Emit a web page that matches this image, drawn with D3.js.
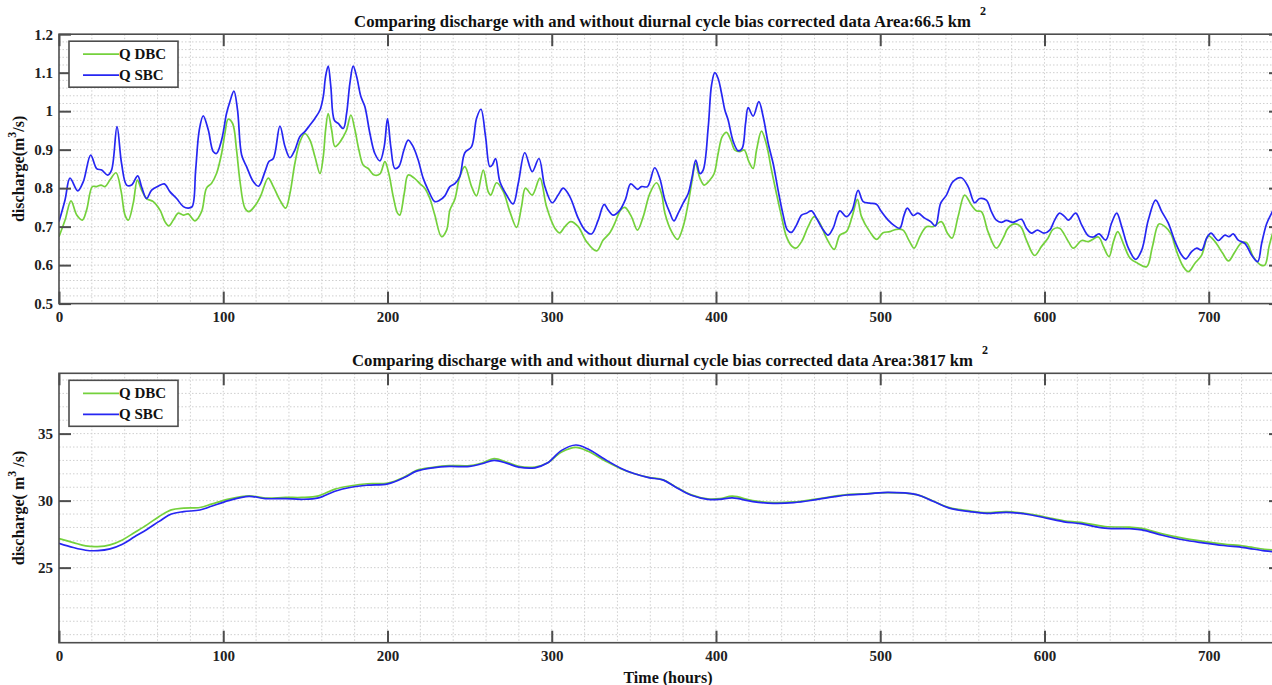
<!DOCTYPE html>
<html><head><meta charset="utf-8">
<script src="https://cdn.jsdelivr.net/npm/d3@7"></script>
<style>body{margin:0;background:#fff}svg{display:block}</style>
</head><body><svg id="c" width="1272" height="685"></svg>
<script>
// ---------- data ----------
const hourTicks = [0, 100, 200, 300, 400, 500, 600, 700];
const topTicks = [0.5, 0.6, 0.7, 0.8, 0.9, 1.0, 1.1, 1.2];
const bottomTicks = [25, 30, 35];
const seriesNames = ["Q DBC", "Q SBC"];
const titleTop = "Comparing discharge with and without diurnal cycle bias corrected data Area:66.5 km";
const titleBottom = "Comparing discharge with and without diurnal cycle bias corrected data Area:3817 km";

// [hour, discharge]
const topDBC = [[0,0.674],[3.7,0.717],[7.3,0.767],[10.8,0.73],[14.2,0.717],[16.8,0.743],[20.3,0.804],[22.9,0.804],[25.6,0.808],[28,0.804],[31,0.821],[34.7,0.84],[37.7,0.795],[40.2,0.73],[42.2,0.717],[45.2,0.761],[47.7,0.821],[50.3,0.795],[53.3,0.773],[57.4,0.765],[61.5,0.743],[64.5,0.713],[66.9,0.702],[69.6,0.717],[72.6,0.735],[75.7,0.73],[78.7,0.733],[82.8,0.715],[86.8,0.739],[89.8,0.8],[92.9,0.813],[95.9,0.838],[99,0.89],[101,0.942],[103,0.979],[105.7,0.968],[108.1,0.899],[110.1,0.821],[113.2,0.748],[115.6,0.739],[119.3,0.754],[122.8,0.78],[127.4,0.826],[130.5,0.804],[134.5,0.769],[138,0.748],[140.6,0.786],[143.6,0.864],[146.7,0.921],[149.7,0.942],[152.8,0.925],[155.8,0.882],[158.9,0.838],[160.9,0.882],[162.3,0.951],[163.9,0.994],[166,0.951],[168,0.908],[170.4,0.916],[173.1,0.934],[175.1,0.951],[177.7,0.99],[180.2,0.951],[182.6,0.899],[185.2,0.86],[188.3,0.851],[191.9,0.834],[195.4,0.837],[198.4,0.869],[200.8,0.838],[203.5,0.778],[206.1,0.735],[207.5,0.73],[210.2,0.786],[212.6,0.834],[216.3,0.826],[219.7,0.812],[222.7,0.8],[225.8,0.773],[228.8,0.73],[232.9,0.674],[236,0.691],[238,0.743],[241,0.771],[244,0.83],[247.1,0.856],[251.2,0.804],[254.2,0.78],[258.3,0.847],[261.3,0.791],[262.9,0.782],[266.4,0.814],[270.5,0.791],[274.5,0.739],[278.6,0.698],[281.6,0.752],[284,0.8],[288.1,0.782],[292.8,0.826],[296.8,0.752],[301.9,0.696],[304.9,0.684],[308,0.7],[311.6,0.713],[316.1,0.7],[321.2,0.661],[327.3,0.637],[331.3,0.665],[335.4,0.684],[338.4,0.709],[341.9,0.743],[344.5,0.75],[348.5,0.726],[352.2,0.691],[355.7,0.726],[359.7,0.786],[363.8,0.814],[366.8,0.786],[368.9,0.735],[373,0.687],[376.6,0.667],[380,0.7],[383.1,0.761],[385.5,0.821],[387.5,0.864],[390.2,0.826],[392.8,0.808],[396.3,0.821],[398.9,0.838],[401.3,0.89],[403.8,0.934],[406.4,0.945],[409,0.925],[411.5,0.899],[414.5,0.895],[417.2,0.899],[420,0.869],[422.6,0.851],[424.7,0.899],[427.7,0.948],[430.8,0.912],[433.8,0.847],[436.8,0.786],[439.9,0.726],[442.9,0.674],[446,0.65],[448.6,0.644],[452.1,0.661],[456.1,0.7],[459.8,0.726],[463.2,0.709],[467.3,0.67],[472,0.641],[475.4,0.678],[479.4,0.687],[482.9,0.726],[486.1,0.771],[488.6,0.726],[493.6,0.687],[497.7,0.667],[501.7,0.684],[505.8,0.687],[509.9,0.693],[513.9,0.691],[517.4,0.665],[520.6,0.644],[524.1,0.674],[528.1,0.7],[532.2,0.7],[537.2,0.713],[540.9,0.683],[543.7,0.67],[547.4,0.726],[551.4,0.782],[555.5,0.756],[558.5,0.741],[561.6,0.739],[565.6,0.687],[570.7,0.644],[574.8,0.67],[577.8,0.696],[581.9,0.707],[585.5,0.7],[589,0.665],[594,0.625],[598.1,0.648],[602.1,0.67],[605.2,0.693],[609.2,0.696],[612.3,0.678],[614.6,0.661],[617.6,0.644],[622.7,0.664],[626.7,0.661],[632.8,0.673],[635.9,0.648],[639.3,0.622],[642,0.661],[644.6,0.687],[648,0.656],[652.1,0.618],[656.7,0.605],[662.2,0.596],[665.7,0.648],[669.7,0.707],[673.4,0.7],[677,0.681],[680.5,0.635],[684.5,0.596],[687.6,0.583],[691.6,0.605],[695.7,0.626],[699.8,0.676],[703.8,0.661],[708.3,0.632],[712,0.611],[716,0.635],[720,0.658],[723.1,0.658],[727.1,0.622],[731.8,0.6],[734.2,0.6],[736.7,0.648],[738.3,0.674],[741,0.71]];

const topSBC = [[0,0.713],[3.7,0.77],[6.7,0.826],[11.4,0.793],[14.8,0.817],[19.3,0.886],[22.9,0.851],[26,0.847],[29.6,0.834],[32,0.847],[35.3,0.96],[38.1,0.864],[41.2,0.808],[44.2,0.808],[47.9,0.832],[50.3,0.803],[53.3,0.773],[56.4,0.795],[60.4,0.805],[64.1,0.811],[67.5,0.791],[71.6,0.773],[75.7,0.752],[78.7,0.748],[81.1,0.752],[83.2,0.847],[85.4,0.951],[87.8,0.988],[90.9,0.951],[93.9,0.895],[95.9,0.89],[99,0.925],[102,0.994],[104,1.024],[106.5,1.052],[108.7,1.003],[111.2,0.886],[114.2,0.856],[118.3,0.817],[121.5,0.805],[125.4,0.843],[127.8,0.869],[130.5,0.877],[134.5,0.961],[137.6,0.908],[140.6,0.879],[143.6,0.899],[146.7,0.934],[149.7,0.947],[152.8,0.964],[155.8,0.981],[158.9,1.003],[160.9,1.038],[162.3,1.09],[163.9,1.117],[165.5,1.064],[167.6,0.977],[170,0.968],[173.1,0.955],[175.1,0.994],[177.1,1.072],[179.1,1.117],[181.2,1.09],[183.8,1.038],[186.2,1.012],[189.3,0.942],[192.3,0.89],[195.4,0.871],[198,0.908],[200,0.981],[202,0.908],[204.5,0.851],[206.9,0.856],[210,0.899],[212.6,0.925],[215.6,0.908],[218.7,0.873],[221.7,0.826],[224.8,0.795],[228.8,0.765],[231.9,0.769],[234.9,0.78],[238,0.804],[241,0.812],[244,0.83],[247.1,0.892],[251.2,0.908],[254.2,0.981],[256.9,1.005],[259.7,0.934],[262.3,0.856],[263.8,0.86],[265.8,0.877],[268.4,0.817],[272.5,0.782],[276.5,0.759],[279.6,0.812],[283.6,0.892],[288.1,0.843],[292.2,0.877],[295.8,0.804],[300.3,0.762],[303.9,0.782],[307,0.8],[311,0.778],[316.1,0.722],[320.2,0.691],[324.2,0.681],[328.3,0.717],[331.9,0.758],[334.4,0.743],[337.4,0.73],[341.5,0.743],[344.9,0.771],[348.1,0.811],[352.2,0.797],[354.6,0.804],[358.3,0.804],[362.7,0.853],[365.8,0.825],[368.9,0.769],[372,0.735],[374.4,0.715],[377,0.735],[380,0.761],[383.1,0.786],[385.5,0.83],[387.7,0.873],[390.2,0.838],[392.2,0.847],[395.3,0.96],[397.3,1.068],[399.3,1.1],[401.3,1.085],[403.4,1.046],[405.4,1.003],[407.4,0.977],[410.5,0.921],[413.5,0.897],[415.9,0.903],[418,0.968],[419.6,1.009],[422.6,0.987],[426.1,1.025],[428.7,0.986],[431.8,0.916],[434.8,0.864],[437.8,0.795],[440.9,0.73],[443.5,0.691],[446,0.685],[449,0.704],[452.1,0.73],[455.1,0.735],[458.1,0.741],[461.2,0.722],[464.6,0.696],[468.3,0.678],[471.3,0.696],[475.4,0.741],[479.4,0.726],[482.9,0.743],[486.5,0.794],[489.6,0.765],[493.6,0.761],[497.7,0.758],[500.7,0.739],[504.8,0.717],[508.8,0.702],[511.9,0.696],[514.5,0.73],[516.5,0.748],[520,0.729],[523,0.735],[527.1,0.722],[530.7,0.713],[533.6,0.702],[536.8,0.761],[540.3,0.782],[544.3,0.817],[549.4,0.827],[553.5,0.804],[557.5,0.762],[560.6,0.773],[564.6,0.769],[567.7,0.739],[570.7,0.717],[573.7,0.711],[576.8,0.716],[580.9,0.711],[585.9,0.719],[589,0.696],[592,0.683],[595.7,0.691],[599.7,0.683],[603.2,0.691],[606.2,0.717],[609.2,0.735],[612.3,0.726],[614.6,0.717],[619,0.735],[622.7,0.704],[626.7,0.676],[629.8,0.673],[633.2,0.681],[637.3,0.665],[640.9,0.71],[644,0.735],[647,0.7],[651.1,0.644],[655.5,0.615],[659.2,0.639],[663.2,0.717],[667.7,0.769],[671.4,0.739],[675.4,0.709],[679.5,0.661],[683.5,0.626],[686,0.616],[689.6,0.635],[692.7,0.644],[695.7,0.639],[698.7,0.67],[701.4,0.683],[705.8,0.664],[709.9,0.678],[712.3,0.674],[714.9,0.681],[718,0.665],[722.1,0.656],[726.1,0.626],[729.8,0.609],[732.2,0.656],[735.2,0.707],[738.3,0.735],[741,0.76]];

const bottomDBC = [[0,27.17],[8.7,26.87],[16.2,26.62],[23.6,26.57],[31.1,26.7],[38.6,27.07],[46,27.62],[53.5,28.19],[61,28.82],[68.4,29.31],[75.9,29.44],[85.8,29.49],[93.3,29.76],[103.2,30.11],[115.7,30.36],[125.6,30.19],[138,30.24],[148,30.24],[158,30.36],[168,30.86],[177.9,31.11],[187.8,31.26],[200.2,31.31],[210.2,31.76],[217.7,32.26],[227.6,32.48],[237.6,32.61],[250,32.61],[257.5,32.81],[264.9,33.13],[272.4,32.88],[279.9,32.56],[289.8,32.51],[297.3,32.81],[306,33.63],[314.7,33.98],[322.1,33.68],[332.1,33.0],[342,32.38],[350,32.02],[359,31.74],[368,31.55],[375,31.06],[385,30.43],[395,30.13],[402.4,30.15],[410,30.33],[422.4,30.0],[434.9,29.85],[447.4,29.9],[459.8,30.1],[472.3,30.33],[479.8,30.45],[492.3,30.52],[504.7,30.6],[522.2,30.45],[532.2,29.97],[542.1,29.48],[554.6,29.23],[564.6,29.1],[577,29.18],[592,28.98],[601.9,28.74],[611.9,28.5],[621.9,28.38],[636.8,28.07],[651.8,28.02],[659.3,27.93],[671.7,27.52],[684.2,27.2],[696.6,26.96],[709.1,26.76],[721.5,26.61],[734,26.37],[741,26.3]];

const bottomSBC = [[0,26.82],[8.7,26.5],[16.2,26.3],[23.6,26.27],[31.1,26.4],[38.6,26.75],[46,27.3],[53.5,27.85],[61,28.45],[68.4,29.0],[75.9,29.18],[85.8,29.3],[93.3,29.6],[103.2,30.0],[115.7,30.32],[125.6,30.15],[138,30.15],[148,30.1],[158,30.2],[168,30.7],[177.9,31.0],[187.8,31.15],[200.2,31.25],[210.2,31.72],[217.7,32.2],[227.6,32.45],[237.6,32.55],[250,32.55],[257.5,32.75],[264.9,33.0],[272.4,32.8],[279.9,32.5],[289.8,32.45],[297.3,32.8],[306,33.75],[314.7,34.15],[322.1,33.85],[332.1,33.1],[342,32.42],[350,32.02],[359,31.72],[368,31.53],[375,31.04],[385,30.4],[395,30.1],[402.4,30.1],[410,30.2],[422.4,29.93],[434.9,29.8],[447.4,29.85],[459.8,30.05],[472.3,30.3],[479.8,30.42],[492.3,30.5],[504.7,30.62],[522.2,30.45],[532.2,29.95],[542.1,29.44],[554.6,29.18],[564.6,29.05],[577,29.13],[592,28.93],[601.9,28.68],[611.9,28.42],[621.9,28.28],[636.8,27.95],[651.8,27.9],[659.3,27.82],[671.7,27.42],[684.2,27.08],[696.6,26.85],[709.1,26.65],[721.5,26.5],[734,26.25],[741,26.18]];

// ---------- drawing ----------
const FONT = '"Liberation Serif","Times New Roman",serif';
const GREEN = "#74d13c", BLUE = "#2626f2", AX = "#4d4d4d";
const svg = d3.select("#c");
const x = d3.scaleLinear().domain([0, 744]).range([59, 1281]);

function panel(o) {
  const y = d3.scaleLinear().domain(o.domain).range([o.bottom, o.top]);
  const g = svg.append("g");
  const L = x.range()[0], R = x.range()[1];
  const cid = "clip" + o.id;
  svg.append("clipPath").attr("id", cid).append("rect")
    .attr("x", L).attr("y", o.top).attr("width", R - L).attr("height", o.bottom - o.top);

  // grid
  const grid = g.append("g").attr("stroke", "#cfcfcf").attr("stroke-width", 1).attr("stroke-dasharray", "1.5,2");
  grid.selectAll("line.v").data(d3.range(20, 744, 20)).join("line")
    .attr("x1", d => x(d)).attr("x2", d => x(d)).attr("y1", o.top).attr("y2", o.bottom);
  grid.selectAll("line.h").data(o.gridY).join("line").attr("class", "h")
    .attr("x1", L).attr("x2", R).attr("y1", d => y(d)).attr("y2", d => y(d));

  // lines
  const line = d3.line().x(d => x(d[0])).y(d => y(d[1])).curve(d3.curveCatmullRom.alpha(0.5));
  const lg = g.append("g").attr("clip-path", `url(#${cid})`).attr("fill", "none")
    .attr("stroke-width", 1.7).attr("stroke-linejoin", "round");
  lg.append("path").datum(o.dbc).attr("d", line).attr("stroke", GREEN);
  lg.append("path").datum(o.sbc).attr("d", line).attr("stroke", BLUE);

  // axes (inward ticks)
  const styleAxis = sel => {
    sel.select(".domain").remove();
    sel.selectAll(".tick line").attr("stroke", AX).attr("stroke-width", 2);
    sel.selectAll(".tick text").attr("fill", "#222").style("font-family", FONT)
      .style("font-weight", "bold").style("font-size", "15px");
  };
  g.append("g").attr("transform", `translate(0,${o.bottom})`)
    .call(d3.axisBottom(x).tickValues(hourTicks).tickSize(-12).tickPadding(8).tickFormat(d3.format("d")))
    .call(styleAxis);
  g.append("g").attr("transform", `translate(0,${o.top})`)
    .call(d3.axisTop(x).tickValues(hourTicks).tickSize(-12).tickFormat(""))
    .call(styleAxis);
  g.append("g").attr("transform", `translate(${L},0)`)
    .call(d3.axisLeft(y).tickValues(o.ticks).tickSize(-12).tickPadding(6).tickFormat(d => String(+d.toFixed(1))))
    .call(styleAxis);
  g.append("g").attr("transform", `translate(${R},0)`)
    .call(d3.axisRight(y).tickValues(o.ticks).tickSize(-12).tickFormat(""))
    .call(styleAxis);

  // box
  g.append("rect").attr("x", L).attr("y", o.top).attr("width", R - L).attr("height", o.bottom - o.top)
    .attr("fill", "none").attr("stroke", AX).attr("stroke-width", 1.6);

  // title
  const t = g.append("text").attr("x", (L + R) / 2).attr("y", o.top - 7)
    .attr("text-anchor", "middle").style("font-family", FONT).style("font-weight", "bold")
    .style("font-size", "16.7px").attr("fill", "#111");
  t.append("tspan").text(o.title);
  t.append("tspan").attr("dx", 9).attr("dy", -12).style("font-size", "12px").text("2");

  // y label
  const yl = g.append("text").attr("transform", `translate(24,${(o.top + o.bottom) / 2}) rotate(-90)`)
    .attr("text-anchor", "middle").style("font-family", FONT).style("font-weight", "bold")
    .style("font-size", "16px").attr("fill", "#111");
  yl.append("tspan").text(o.ylab[0]);
  yl.append("tspan").attr("dy", -8).style("font-size", "12px").text("3");
  yl.append("tspan").attr("dy", 8).text(o.ylab[1]);

  // legend
  const lgX = 69, lgY = o.top + 7;
  const leg = g.append("g");
  leg.append("rect").attr("x", lgX).attr("y", lgY).attr("width", 109).attr("height", 46)
    .attr("fill", "#fff").attr("stroke", AX).attr("stroke-width", 1.6);
  [GREEN, BLUE].forEach((c, i) => {
    const yy = lgY + 13 + i * 21;
    leg.append("line").attr("x1", lgX + 14).attr("x2", lgX + 50).attr("y1", yy).attr("y2", yy)
      .attr("stroke", c).attr("stroke-width", 1.7);
    leg.append("text").attr("x", lgX + 50).attr("y", yy + 5).text(seriesNames[i])
      .style("font-family", FONT).style("font-weight", "bold").style("font-size", "15px").attr("fill", "#111");
  });
  return y;
}

panel({
  id: "t", domain: [0.5, 1.2], top: 34.2, bottom: 303.6,
  gridY: d3.range(26, 60).map(k => k / 50),
  ticks: topTicks, dbc: topDBC, sbc: topSBC, title: titleTop,
  ylab: ["discharge(m", "/s)"]
});
panel({
  id: "b", domain: [19.4, 39.5], top: 373.3, bottom: 642.7,
  gridY: d3.range(20, 40),
  ticks: bottomTicks, dbc: bottomDBC, sbc: bottomSBC, title: titleBottom,
  ylab: ["discharge( m", " /s)"]
});

svg.append("text").attr("x", 668).attr("y", 683).attr("text-anchor", "middle")
  .style("font-family", FONT).style("font-weight", "bold").style("font-size", "16px")
  .attr("fill", "#111").text("Time (hours)");
</script></body></html>
